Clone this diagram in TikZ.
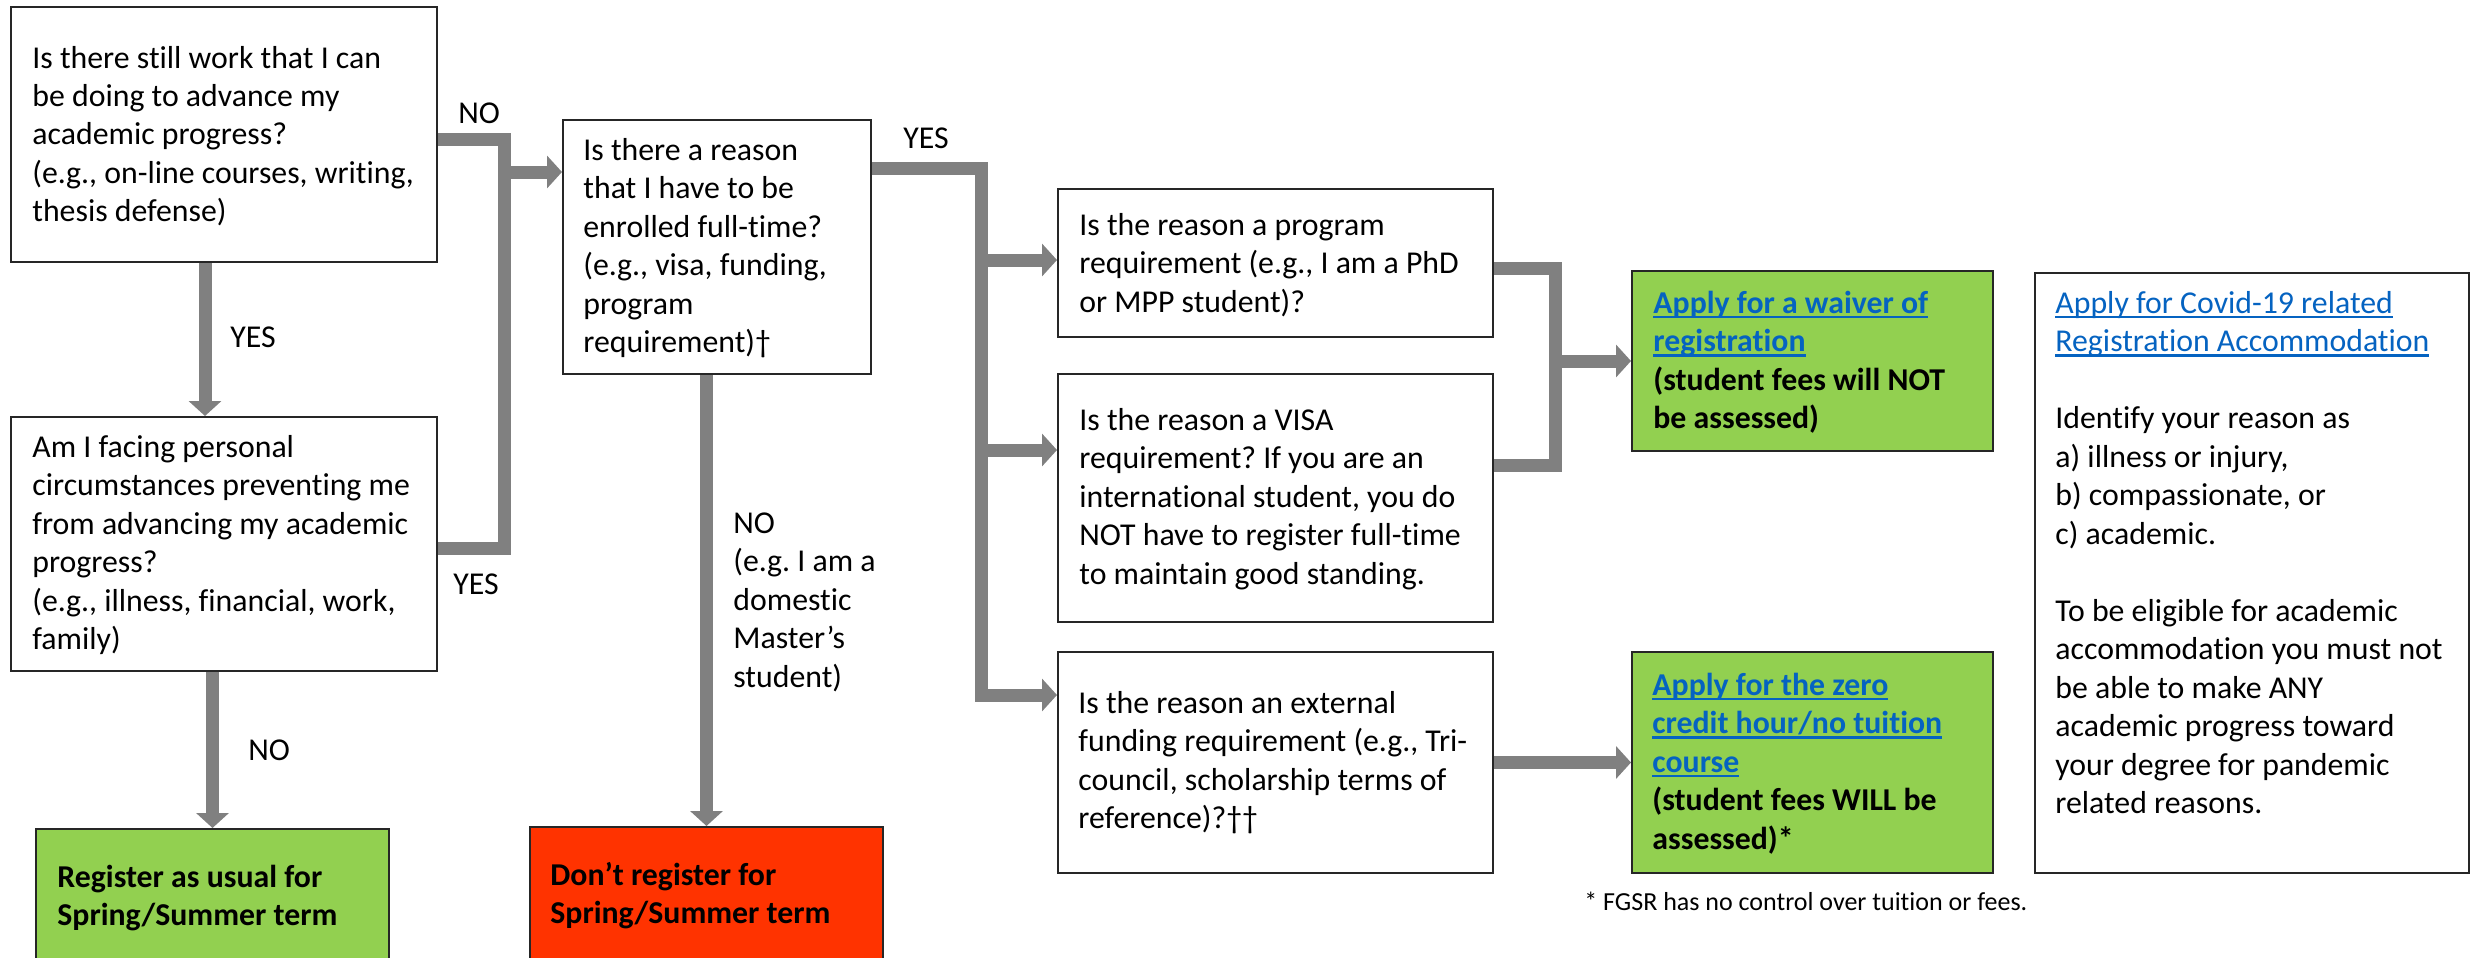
\documentclass[tikz,border=0pt]{standalone}
\usepackage{fontspec}
\setmainfont{Carlito}[Ligatures=NoCommon]
\usetikzlibrary{arrows.meta,fit}
\definecolor{arrgray}{HTML}{808080}
\definecolor{okgreen}{HTML}{92D050}
\definecolor{stopred}{HTML}{FF3300}
\definecolor{linkblue}{HTML}{0563C1}
\newsavebox{\lnkbox}
\newcommand{\lnk}[1]{\sbox{\lnkbox}{#1}\rlap{\rule[-2.6pt]{\wd\lnkbox}{1.3pt}}\usebox{\lnkbox}}
\newcommand{\bl}[1]{\textcolor{linkblue}{\lnk{#1}}}
\newcommand{\tx}[1]{\begin{tabular}[t]{@{}l@{}}#1\end{tabular}}
\newcommand{\msize}{\fontsize{15.9pt}{19.25pt}\selectfont}
\frenchspacing
\begin{document}
\begin{tikzpicture}[x=0.5pt,y=-0.5pt,
  box/.style={draw=black!85, line width=1pt, inner sep=0pt, fill=white},
  gbox/.style={box, fill=okgreen},
  rbox/.style={box, fill=stopred},
  txt/.style={anchor=base west, inner sep=0pt, font=\msize},
  btxt/.style={txt, font=\msize\bfseries},
  conn/.style={draw=arrgray, line width=6.5pt, line join=miter},
  arr/.style={conn, -{Triangle[width=16pt,length=7.5pt]}}]
\useasboundingbox (0,0) rectangle (2473,958);
% boxes
\node[box, fit={(11,7)(437,262)}] (A) {};
\node[box, fit={(11,417)(437,671)}] (B) {};
\node[gbox, fit={(36,829)(389,985)}] (Reg) {};
\node[box, fit={(563,120)(871,374)}] (C) {};
\node[rbox, fit={(530,827)(883,985)}] (Red) {};
\node[box, fit={(1058,189)(1493,337)}] (D) {};
\node[box, fit={(1058,374)(1493,622)}] (E) {};
\node[box, fit={(1058,652)(1493,873)}] (F) {};
\node[gbox, fit={(1632,271)(1993,451)}] (Wv) {};
\node[gbox, fit={(1632,652)(1993,873)}] (G2) {};
\node[box, fit={(2035,273)(2469,873)}] (Cov) {};
% texts
\node[txt] (tA) at (32,68) {\tx{Is there still work that I can\\be doing to advance my\\academic progress?\\(e.g., on-line courses, writing,\\thesis defense)}};
\node[txt] (tB) at (32,457) {\tx{Am I facing personal\\circumstances preventing me\\from advancing my academic\\progress?\\(e.g., illness, financial, work,\\family)}};
\node[btxt] (tReg) at (57,887) {\tx{Register as usual for\\Spring/Summer term}};
\node[txt] (tC) at (583,160) {\tx{Is there a reason\\that I have to be\\enrolled full-time?\\(e.g., visa, funding,\\program\\requirement)†}};
\node[btxt] (tRed) at (550,885) {\tx{Don’t register for\\Spring/Summer term}};
\node[txt] (tD) at (1079,235) {\tx{Is the reason a program\\requirement (e.g., I am a PhD\\or MPP student)?}};
\node[txt] (tE) at (1079,430) {\tx{Is the reason a VISA\\requirement? If you are an\\international student, you do\\NOT have to register full-time\\to maintain good standing.}};
\node[txt] (tF) at (1078,713) {\tx{Is the reason an external\\funding requirement (e.g., Tri-\\council, scholarship terms of\\reference)?††}};
\node[btxt] (tWv) at (1653,313) {\tx{\bl{Apply for a waiver of}\\\bl{registration}\\(student fees will NOT\\be assessed)}};
\node[btxt] (tG2) at (1652,695) {\tx{\bl{Apply for the zero}\\\bl{credit hour/no tuition}\\\bl{course}\\(student fees WILL be\\assessed)*}};
\node[txt] (tCov) at (2055,313) {\tx{\bl{Apply for Covid-19 related}\\\bl{Registration Accommodation}\\ \\Identify your reason as\\a) illness or injury,\\b) compassionate, or\\c) academic.\\ \\To be eligible for academic\\accommodation you must not\\be able to make ANY\\academic progress toward\\your degree for pandemic\\related reasons.}};
\node[anchor=base west, inner sep=0pt, font=\fontsize{13pt}{15.6pt}\selectfont] (foot) at (1584,910) {* FGSR has no control over tuition or fees.};
% labels
\node[txt] (lNo1) at (458,123) {NO};
\node[txt] (lYes1) at (230,347) {YES};
\node[txt] (lYes2) at (453,594) {YES};
\node[txt] (lNo2) at (248,760) {NO};
\node[txt] (lYes3) at (903,148) {YES};
\node[txt] (lNo3) at (733,533) {\tx{NO\\(e.g. I am a\\domestic\\Master’s\\student)}};
% connector coordinates
\coordinate (xab) at (205,0);
\coordinate (n1) at (504,139.5);
\coordinate (n2) at (504,548);
\coordinate (n3) at (504,172);
\coordinate (y1) at (981,168);
\coordinate (y2) at (981,695);
\coordinate (y3) at (981,260);
\coordinate (y4) at (981,450);
\coordinate (w1) at (1555,268);
\coordinate (w2) at (1555,465);
% connectors
\draw[arr] (A.south -| xab) -- (B.north -| xab);
\draw[arr] (B.south -| Reg.north) -- (Reg.north);
\draw[conn] (A.east |- n1) -- (n1) -- (n2) -- (B.east |- n2);
\draw[arr] (n3) -- (n3 -| C.west);
\draw[arr] (C.east |- y1) -- (y1) -- (y2) -- (y2 -| F.west);
\draw[arr] (y3) -- (y3 -| D.west);
\draw[arr] (y4) -- (y4 -| E.west);
\draw[arr] (C.south -| Red.north) -- (Red.north);
\draw[conn] (D.east |- w1) -- (w1) -- (w2) -- (E.east |- w2);
\draw[arr] (w1 |- Wv.west) -- (Wv.west);
\draw[arr] (F.east) -- (G2.west);
\end{tikzpicture}
\end{document}
